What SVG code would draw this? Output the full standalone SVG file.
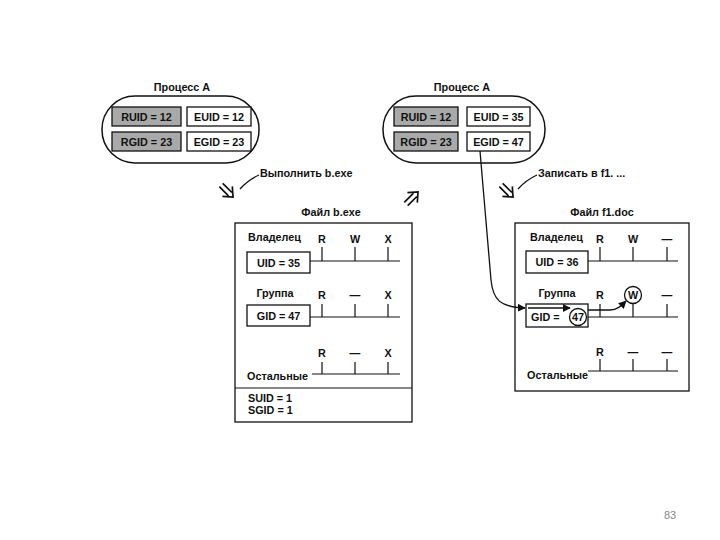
<svg xmlns="http://www.w3.org/2000/svg" width="720" height="540" viewBox="0 0 720 540">
<defs>
<style>
text{font-family:"Liberation Sans",Arial,sans-serif;font-size:10.8px;font-weight:bold;fill:#111}
.c{text-anchor:middle}
.box{fill:#fff;stroke:#111;stroke-width:1.3}
.gray{fill:#a9a9a9;stroke:#111;stroke-width:1.3}
.pill{fill:none;stroke:#111;stroke-width:1.5}
.ln{fill:none;stroke:#111;stroke-width:1.3}
.tk{stroke:#111;stroke-width:1.2}
.hol{fill:none;stroke:#111;stroke-width:1.7}
.pg{font-weight:normal;font-size:11px;fill:#888}
</style>
<marker id="ah" viewBox="0 0 10 10" refX="9" refY="5" markerWidth="8" markerHeight="8" markerUnits="userSpaceOnUse" orient="auto">
<path d="M0,0 L10,5 L0,10 Z" fill="#111"/>
</marker>
<path id="hollow" d="M0,-2.4 H13 M0,2.4 H13 M9,-7 L17,0 L9,7" class="hol"/>
</defs>

<g id="procA1">
<text class="c" x="182" y="91">Процесс А</text>
<rect class="pill" x="102" y="96" width="157" height="67" rx="33" ry="33"/>
<rect class="gray" x="112" y="107" width="69" height="19"/>
<text class="c" x="146.5" y="120.5">RUID = 12</text>
<rect class="box" x="187" y="107" width="64" height="19"/>
<text class="c" x="219" y="120.5">EUID = 12</text>
<rect class="gray" x="112" y="132" width="69" height="19"/>
<text class="c" x="146.5" y="145.5">RGID = 23</text>
<rect class="box" x="187" y="132" width="64" height="19"/>
<text class="c" x="219" y="145.5">EGID = 23</text>
</g>

<g id="procA2">
<text class="c" x="462" y="91">Процесс А</text>
<rect class="pill" x="383" y="96" width="162" height="67" rx="33" ry="33"/>
<rect class="gray" x="394" y="107" width="64" height="19"/>
<text class="c" x="426" y="120.5">RUID = 12</text>
<rect class="box" x="467" y="107" width="63" height="19"/>
<text class="c" x="498.5" y="120.5">EUID = 35</text>
<rect class="gray" x="394" y="132" width="64" height="19"/>
<text class="c" x="426" y="145.5">RGID = 23</text>
<rect class="box" x="467" y="132" width="63" height="19"/>
<text class="c" x="498.5" y="145.5">EGID = 47</text>
</g>

<g id="label-exec">
<text x="260" y="177">Выполнить b.exe</text>
<path class="ln" d="M259,175 Q248,180 240,189"/>
</g>
<g id="label-write">
<text x="538" y="177">Записать в f1. ...</text>
<path class="ln" d="M537,175 Q526,180 518,189"/>
</g>

<g id="arrows-hollow">
<use href="#hollow" transform="translate(221,185) rotate(45)"/>
<use href="#hollow" transform="translate(406,204) rotate(-45)"/>
<use href="#hollow" transform="translate(501,185) rotate(45)"/>
</g>

<g id="fileB">
<text class="c" x="331" y="216">Файл b.exe</text>
<rect class="box" x="235" y="223" width="177" height="199"/>
<line class="tk" x1="235" y1="388" x2="412" y2="388"/>
<text x="248" y="241">Владелец</text>
<text class="c" x="322" y="243">R</text>
<text class="c" x="355" y="243">W</text>
<text class="c" x="388" y="243">X</text>
<path class="tk" d="M322,247 V261 M355,247 V261 M388,247 V261 M310,261 H400"/>
<rect class="box" x="247" y="252" width="63" height="21"/>
<text class="c" x="278.5" y="266.5">UID = 35</text>
<text class="c" x="275" y="297">Группа</text>
<text class="c" x="322" y="299">R</text>
<text class="c" x="355" y="299">—</text>
<text class="c" x="388" y="299">X</text>
<path class="tk" d="M322,304 V317 M355,304 V317 M388,304 V317 M310,317 H400"/>
<rect class="box" x="247" y="305" width="63" height="21"/>
<text class="c" x="278.5" y="319.5">GID = 47</text>
<text class="c" x="322" y="357">R</text>
<text class="c" x="355" y="357">—</text>
<text class="c" x="388" y="357">X</text>
<path class="tk" d="M322,362 V374 M355,362 V374 M388,362 V374 M312,374 H400"/>
<text x="247" y="380">Остальные</text>
<text x="248" y="402">SUID = 1</text>
<text x="248" y="414">SGID = 1</text>
</g>

<g id="fileF1">
<text class="c" x="602" y="216">Файл f1.doc</text>
<rect class="box" x="515" y="223" width="174" height="168"/>
<text x="530" y="241">Владелец</text>
<text class="c" x="600" y="243">R</text>
<text class="c" x="633" y="243">W</text>
<text class="c" x="667" y="243">—</text>
<path class="tk" d="M600,247 V261 M633,247 V261 M667,247 V261 M588,261 H678"/>
<rect class="box" x="526" y="251" width="62" height="22"/>
<text class="c" x="557" y="265.5">UID = 36</text>
<text class="c" x="557" y="297">Группа</text>
<text class="c" x="600" y="299">R</text>
<circle cx="633" cy="295" r="8.5" fill="#fff" stroke="#111" stroke-width="1.3"/>
<text class="c" x="633" y="299">W</text>
<text class="c" x="667" y="299">—</text>
<path class="tk" d="M600,304 V317 M633,303.5 V317 M667,304 V317 M588,317 H678"/>
<rect class="box" x="526" y="304" width="62" height="23"/>
<text x="531" y="320.5">GID =</text>
<circle cx="578" cy="317" r="8.5" fill="#fff" stroke="#111" stroke-width="1.3"/>
<text class="c" x="578" y="321">47</text>
<text class="c" x="600" y="356">R</text>
<text class="c" x="633" y="356">—</text>
<text class="c" x="667" y="356">—</text>
<path class="tk" d="M600,359 V371 M633,359 V371 M667,359 V371 M588,371 H678"/>
<text x="527" y="379">Остальные</text>
</g>

<g id="connectors">
<path class="ln" marker-end="url(#ah)" d="M480,151 L491,280 C493,300 500,307 525,308"/>
<path class="ln" marker-end="url(#ah)" stroke-width="1.6" d="M528,308 L570,308"/>
<path class="ln" marker-end="url(#ah)" stroke-width="1.6" d="M588,310 L610,310 C617,310 621,306 626,301"/>
</g>

<text class="pg" x="664" y="519">83</text>
</svg>
